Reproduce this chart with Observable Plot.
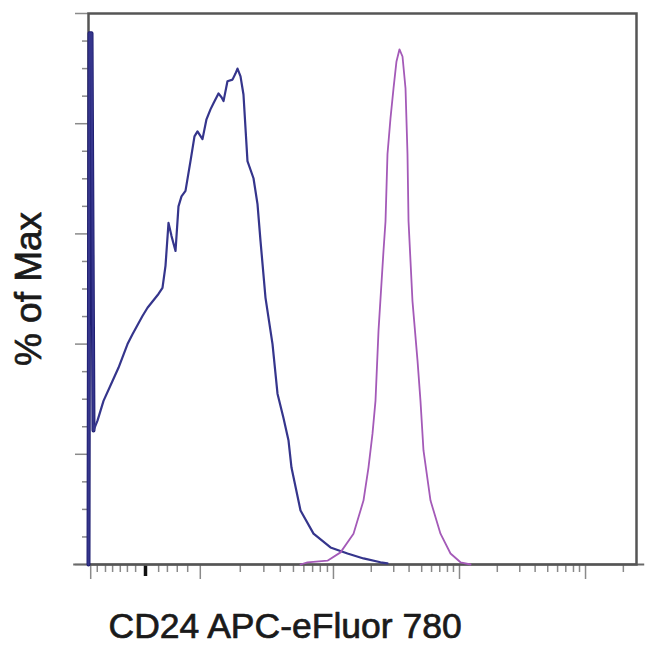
<!DOCTYPE html>
<html>
<head>
<meta charset="utf-8">
<script src="https://cdn.jsdelivr.net/npm/d3@7"></script>
<script src="https://cdn.jsdelivr.net/npm/@observablehq/plot@0.6"></script>
<style>
  html, body { margin: 0; padding: 0; background: #fff; }
</style>
</head>
<body>
<div id="chart"></div>
<script>
// Channel (display) units on x: 0..1000 across the plot frame; y: % of Max
const blueX = [0, 1.8, 5.5, 9.1, 16.4, 27.4, 43.8, 54.7, 71.2, 80.3, 98.5, 107.7, 127.7, 135.0, 140.5, 146.0, 151.5, 158.8, 164.2, 169.7, 177.0, 186.1, 193.4, 198.9, 208.0, 215.3, 222.6, 228.1, 237.2, 242.7, 246.4, 253.6, 262.8, 268.2, 271.9, 277.4, 282.8, 290.1, 301.1, 308.4, 313.9, 323.0, 335.8, 344.9, 355.8, 365.0, 370.4, 386.9, 410.6, 441.6, 472.6, 501.8, 532.8, 545.6];
const blueY = [0, 96.4, 96.4, 24.3, 26.1, 29.7, 33.3, 35.7, 40.0, 41.8, 45.1, 46.6, 49.1, 50.2, 54.2, 62.0, 59.6, 56.9, 65.0, 66.8, 67.8, 73.2, 77.7, 78.6, 77.2, 80.8, 82.6, 83.7, 85.5, 84.8, 84.1, 87.7, 88.0, 89.1, 90.0, 88.6, 85.3, 73.2, 70.1, 65.4, 58.7, 48.4, 40.0, 31.0, 26.6, 22.5, 17.6, 9.8, 5.6, 3.1, 2.0, 1.1, 0.4, 0.2];

const purpleX = [386.9, 399.6, 436.1, 459.9, 483.6, 501.8, 510.9, 518.2, 523.7, 529.2, 538.3, 542.0, 545.6, 551.1, 556.6, 562.0, 567.5, 573.0, 578.5, 582.1, 584.0, 591.2, 600.4, 605.8, 611.3, 624.1, 642.3, 660.6, 678.8, 697.1];
const purpleY = [0, 0.4, 0.7, 2.2, 5.6, 11.6, 17.6, 23.7, 29.7, 42.4, 56.9, 62.3, 74.5, 81.0, 86.4, 91.3, 93.5, 92.2, 86.4, 74.5, 62.3, 47.8, 37.0, 29.7, 20.7, 11.6, 5.6, 2.0, 0.4, 0];

// Axis ticks (unlabelled in the original)
const xMajorTicks = [4, 204, 447, 677, 907];
const xMinorTicks = [16, 31, 44, 58, 71, 86, 128, 144, 162, 181,
  277, 320, 350, 374, 393, 409, 423, 436,
  516, 557, 585, 608, 626, 641, 655, 666,
  746, 787, 815, 838, 856, 871, 885, 896, 976];
const xDarkTick = [104];
const xAxisExtent = [-27, 1015];
const yMajorTicks = [0, 20, 40, 60, 80, 100];
const yMinorTicks = [5, 10, 15, 25, 30, 35, 45, 50, 55, 65, 70, 75, 85, 90, 95];

const xLabel = "CD24 APC-eFluor 780";
const yLabel = "% of Max";

const blue = blueX.map((x, i) => ({x, y: blueY[i]}));
const purple = purpleX.map((x, i) => ({x, y: purpleY[i]}));
const blueSpike = blue.slice(0, 4);

const noText = () => "";

const chart = Plot.plot({
  width: 650,
  height: 654,
  marginLeft: 88,
  marginRight: 14,
  marginTop: 13,
  marginBottom: 90,
  x: {domain: [0, 1000], axis: null},
  y: {domain: [0, 100], axis: null},
  style: {background: "#fff", fontFamily: "'Liberation Sans', Arial, sans-serif"},
  marks: [
    Plot.axisY(yMinorTicks, {anchor: "left", tickSize: 6, tickFormat: noText, fill: "none", label: null, stroke: "#8a8a8a", strokeWidth: 1.5}),
    Plot.axisY(yMajorTicks, {anchor: "left", tickSize: 13, tickFormat: noText, fill: "none", label: null, stroke: "#8a8a8a", strokeWidth: 1.5}),
    Plot.axisX(xMinorTicks, {anchor: "bottom", tickSize: 8, tickFormat: noText, fill: "none", label: null, stroke: "#8a8a8a", strokeWidth: 1.5}),
    Plot.axisX(xMajorTicks, {anchor: "bottom", tickSize: 15, tickFormat: noText, fill: "none", label: null, stroke: "#8a8a8a", strokeWidth: 1.5}),
    Plot.axisX(xDarkTick, {anchor: "bottom", tickSize: 12, tickFormat: noText, fill: "none", label: null, stroke: "#111", strokeWidth: 3.5}),
    Plot.ruleY([0], {x1: xAxisExtent[0], x2: xAxisExtent[1], stroke: "#6a6a6a", strokeWidth: 2}),
    Plot.frame({stroke: "#555", strokeWidth: 2.5}),
    Plot.line(blueSpike, {x: "x", y: "y", stroke: "#1e1e70", strokeWidth: 4}),
    Plot.line(blue, {x: "x", y: "y", stroke: "#35358c", strokeWidth: 2.2}),
    Plot.line(purple, {x: "x", y: "y", stroke: "#a45ab8", strokeWidth: 1.8}),
    Plot.text([xLabel], {frameAnchor: "bottom-left", dx: 20, dy: 73, textAnchor: "start", lineAnchor: "bottom", fontSize: 35.5, fill: "#1a1a1a", stroke: "#1a1a1a", strokeWidth: 0.7}),
    Plot.text([yLabel], {frameAnchor: "left", rotate: -90, dx: -48, dy: 0, textAnchor: "middle", lineAnchor: "bottom", fontSize: 37, fill: "#1a1a1a", stroke: "#1a1a1a", strokeWidth: 0.7})
  ]
});
document.getElementById("chart").appendChild(chart);
</script>
</body>
</html>
